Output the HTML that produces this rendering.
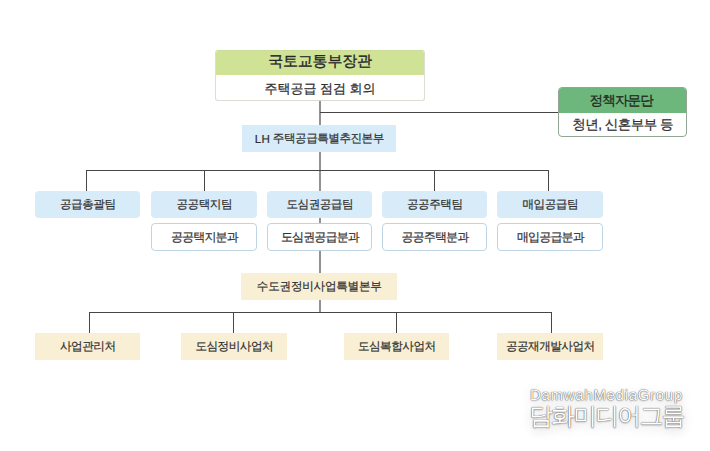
<!DOCTYPE html>
<html><head><meta charset="utf-8">
<style>
html,body{margin:0;padding:0;background:#fff;}
body{width:710px;height:451px;position:relative;overflow:hidden;font-family:"Liberation Sans",sans-serif;color:#303030;text-rendering:geometricPrecision;}
.b{position:absolute;box-sizing:border-box;display:flex;align-items:center;justify-content:center;white-space:nowrap;-webkit-text-stroke:0.2px #303030;}
.l{position:absolute;background:#464646;}
.blue{background:#d8ebf8;border-radius:4px;font-size:11.6px;letter-spacing:-0.5px;padding-left:0.5px;padding-top:2px;}
.team{-webkit-text-stroke:0.2px #303030;}
.sub{background:#fff;border:1px solid #bdd5e5;border-radius:4px;font-size:12px;letter-spacing:-0.85px;padding-left:0.85px;padding-top:1px;}
.beige{-webkit-text-stroke:0.2px #303030;background:#f8efd4;font-size:11.6px;letter-spacing:-0.5px;padding-left:0.5px;padding-top:2px;}
.wm{position:absolute;color:#fff;white-space:nowrap;text-shadow:0 0 1px rgba(0,0,0,.75),0 0 1px rgba(0,0,0,.3),0 1px 2px rgba(0,0,0,.2),0 3px 12px rgba(0,0,0,.22);}
</style></head><body>

<!-- lines -->
<div class="l" style="left:319px;top:100px;width:2px;height:212px;background:#929292;"></div>
<div class="l" style="left:320px;top:112px;width:238px;height:1px;"></div>
<div class="l" style="left:86px;top:170px;width:463px;height:1px;"></div>
<div class="l" style="left:86px;top:170px;width:1px;height:21px;"></div>
<div class="l" style="left:204px;top:170px;width:1px;height:21px;"></div>
<div class="l" style="left:434px;top:170px;width:1px;height:21px;"></div>
<div class="l" style="left:548px;top:170px;width:1px;height:21px;"></div>
<div class="l" style="left:89px;top:312px;width:462px;height:1px;"></div>
<div class="l" style="left:89px;top:312px;width:1px;height:21px;"></div>
<div class="l" style="left:233px;top:312px;width:1px;height:21px;"></div>
<div class="l" style="left:396px;top:312px;width:1px;height:21px;"></div>
<div class="l" style="left:551px;top:312px;width:1px;height:21px;"></div>

<!-- top box -->
<div style="position:absolute;left:215px;top:50px;width:210px;height:51px;box-sizing:border-box;border:1px solid #dcddd3;border-top-color:#cbdb9a;border-radius:3px;background:#fff;overflow:hidden;">
  <div class="b" style="left:0;top:0;width:208px;height:24px;background:#cfe296;font-size:15px;-webkit-text-stroke:0.35px #262626;color:#262626;letter-spacing:-0.2px;padding-bottom:1px;">국토교통부장관</div>
  <div class="b" style="left:0;top:24px;width:208px;height:25px;font-size:13px;-webkit-text-stroke:0.25px #303030;padding-top:3px;">주택공급 점검 회의</div>
</div>

<!-- advisory -->
<div style="position:absolute;left:558px;top:87px;width:129px;height:50px;box-sizing:border-box;border:1px solid #92a693;border-radius:4px;background:#fff;overflow:hidden;">
  <div class="b" style="left:0;top:0;width:127px;height:25px;background:#6db77c;font-size:13.6px;letter-spacing:-0.9px;padding-right:2.5px;padding-top:2px;color:#1f2b20;-webkit-text-stroke:0.3px #1f2b20;">정책자문단</div>
  <div class="b" style="left:0;top:25px;width:127px;height:24px;font-size:13.5px;letter-spacing:-0.5px;padding-left:0.5px;padding-top:2px;-webkit-text-stroke:0.25px #303030;">청년, 신혼부부 등</div>
</div>

<div class="b blue" style="left:242px;top:125px;width:154px;height:27px;border-radius:0;"><span style="letter-spacing:0.3px">LH</span>&nbsp;주택공급특별추진본부</div>

<div class="b blue team" style="left:35px;top:191px;width:105px;height:27px;">공급총괄팀</div>
<div class="b blue team" style="left:151px;top:191px;width:106px;height:27px;">공공택지팀</div>
<div class="b blue team" style="left:267px;top:191px;width:105px;height:27px;">도심권공급팀</div>
<div class="b blue team" style="left:382px;top:191px;width:105px;height:27px;">공공주택팀</div>
<div class="b blue team" style="left:497px;top:191px;width:106px;height:27px;">매입공급팀</div>

<div class="b sub" style="left:151px;top:223px;width:106px;height:28px;">공공택지분과</div>
<div class="b sub" style="left:267px;top:223px;width:105px;height:28px;">도심권공급분과</div>
<div class="b sub" style="left:382px;top:223px;width:105px;height:28px;">공공주택분과</div>
<div class="b sub" style="left:497px;top:223px;width:106px;height:28px;">매입공급분과</div>

<div class="b beige" style="left:241px;top:273px;width:156px;height:27px;letter-spacing:-0.25px;">수도권정비사업특별본부</div>

<div class="b beige" style="left:35px;top:333px;width:105px;height:27px;">사업관리처</div>
<div class="b beige" style="left:181px;top:333px;width:106px;height:27px;">도심정비사업처</div>
<div class="b beige" style="left:344px;top:333px;width:105px;height:27px;">도심복합사업처</div>
<div class="b beige" style="left:497px;top:333px;width:106px;height:27px;">공공재개발사업처</div>

<div class="wm" style="left:530px;top:386.5px;font-size:15px;letter-spacing:0.7px;">DamwahMediaGroup</div>
<div class="wm" style="left:529px;top:401px;font-size:24px;letter-spacing:-1.9px;">담화미디어그룹</div>
</body></html>
